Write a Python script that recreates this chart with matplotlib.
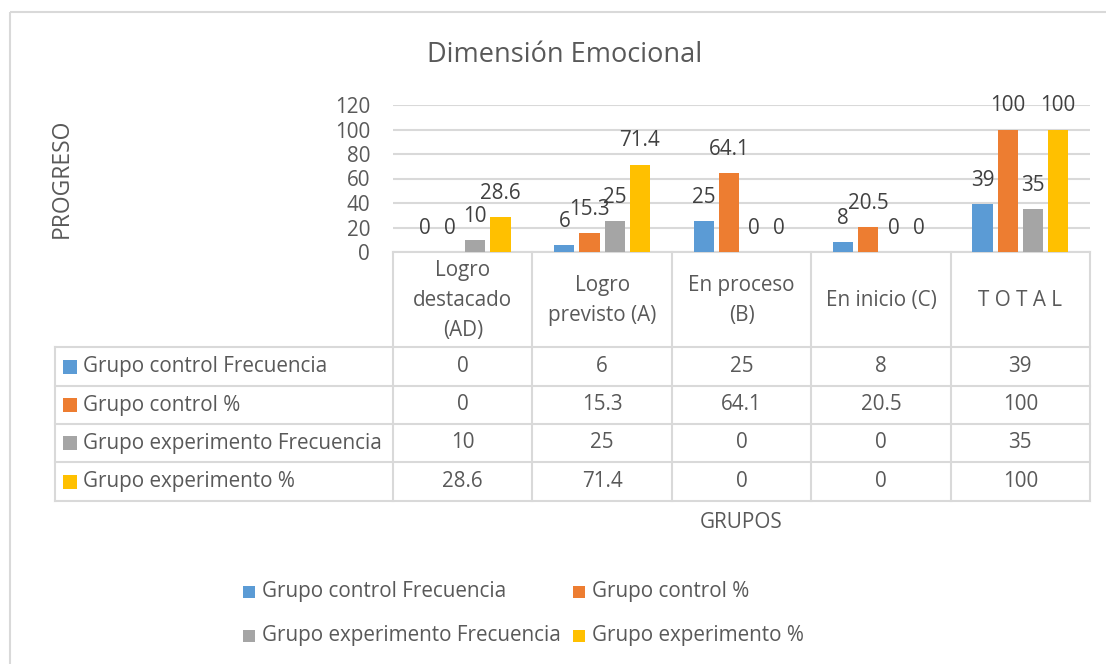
import matplotlib
matplotlib.use("Agg")
import matplotlib.pyplot as plt
from matplotlib.transforms import blended_transform_factory
from matplotlib.patches import Rectangle
import numpy as np

plt.rcParams['font.family'] = ['Open Sans', 'DejaVu Sans']

title = "Dimensión Emocional"
categories = ["Logro\ndestacado\n(AD)", "Logro\nprevisto (A)", "En proceso\n(B)", "En inicio (C)", "T O T A L"]
series_names = ["Grupo control Frecuencia", "Grupo control %",
                "Grupo experimento Frecuencia", "Grupo experimento %"]
control_freq = [0, 6, 25, 8, 39]
control_pct = [0, 15.3, 64.1, 20.5, 100]
exper_freq = [10, 25, 0, 0, 35]
exper_pct = [28.6, 71.4, 0, 0, 100]
series_values = [control_freq, control_pct, exper_freq, exper_pct]
colors = ["#5B9BD5", "#ED7D31", "#A5A5A5", "#FFC000"]
yticks = [0, 20, 40, 60, 80, 100, 120]
ylabel = "PROGRESO"
xlabel = "GRUPOS"

W, H = 1106, 664
fig = plt.figure(figsize=(W / 100, H / 100), dpi=100)

# overlay in pixel coords (y down)
ov = fig.add_axes([0, 0, 1, 1])
ov.set_xlim(0, W)
ov.set_ylim(H, 0)
ov.axis('off')

GRID = "#D9D9D9"
TXT = "#595959"
FS = 14.9

# outer chart border
ov.add_patch(Rectangle((10, 12), W + 10, H + 10, fill=False, ec=GRID, lw=1.5))

x0, x1, yb, yt = 393, 1090, 252, 105
ax = fig.add_axes([x0 / W, 1 - yb / H, (x1 - x0) / W, (yb - yt) / H])
ax.set_xlim(-0.5, len(categories) - 0.5)
ax.set_ylim(0, 120)
ax.set_yticks(yticks)
ax.set_yticklabels([str(t) for t in yticks], fontsize=FS, color=TXT)
ax.tick_params(axis='y', length=0, pad=16.5)
ax.tick_params(axis='x', length=0, labelbottom=False)
ax.grid(axis='y', color=GRID, lw=1.5)
ax.set_axisbelow(True)
for s in ax.spines.values():
    s.set_visible(False)
ax.patch.set_alpha(0)

x = np.arange(len(categories))
step = 0.181
bw = 0.145
for j, (vals, c) in enumerate(zip(series_values, colors)):
    pos = x + (j - 1.5) * step
    ax.bar(pos, vals, width=bw, color=c, zorder=3)
    for p, v in zip(pos, vals):
        ax.annotate(f"{v:g}", (p, v), xytext=(0, 17), textcoords='offset points',
                    ha='center', va='center', fontsize=FS, color="#404040",
                    annotation_clip=False)

# title and axis titles
ov.text(565, 55, title, ha='center', va='center', fontsize=19.5, color=TXT)
ov.text(62, 178, ylabel, ha='center', va='center', rotation=90, fontsize=16.5, color=TXT)
ov.text((x0 + x1) / 2, 522, xlabel, ha='center', va='center', fontsize=FS, color=TXT)

# data table
tr = blended_transform_factory(ax.transData, ov.transData)
row_y = [347, 386, 424, 462, 501]
tl = 55
for b in np.arange(len(categories) + 1) - 0.5:
    ov.plot([b, b], [yb, row_y[-1]], color=GRID, lw=1.5, transform=tr, clip_on=False)
ov.plot([tl, tl], [row_y[0], row_y[-1]], color=GRID, lw=1.5)
for yy in row_y:
    ov.plot([tl, x1], [yy, yy], color=GRID, lw=1.5)
ov.plot([x0, x1], [yb, yb], color=GRID, lw=1.5)

for i, cat in enumerate(categories):
    ov.text(i, (yb + row_y[0]) / 2 + 1, cat, ha='center', va='center', fontsize=FS,
            color=TXT, linespacing=1.55, transform=tr)

for r, (name, vals, c) in enumerate(zip(series_names, series_values, colors)):
    yc = (row_y[r] + row_y[r + 1]) / 2
    ov.add_patch(Rectangle((63, yc - 7), 14, 14, color=c, lw=0))
    ov.text(83, yc, name, ha='left', va='center', fontsize=FS, color=TXT)
    for i, v in enumerate(vals):
        ov.text(i, yc, f"{v:g}", ha='center', va='center', fontsize=FS, color=TXT,
                transform=tr)

# legend
leg_pos = [(243, 592), (573, 592), (243, 636), (573, 636)]
for (lx, ly), name, c in zip(leg_pos, series_names, colors):
    ov.add_patch(Rectangle((lx, ly - 6), 12, 12, color=c, lw=0))
    ov.text(lx + 19, ly, name, ha='left', va='center', fontsize=FS, color=TXT)

fig.savefig("out.png", dpi=100)
